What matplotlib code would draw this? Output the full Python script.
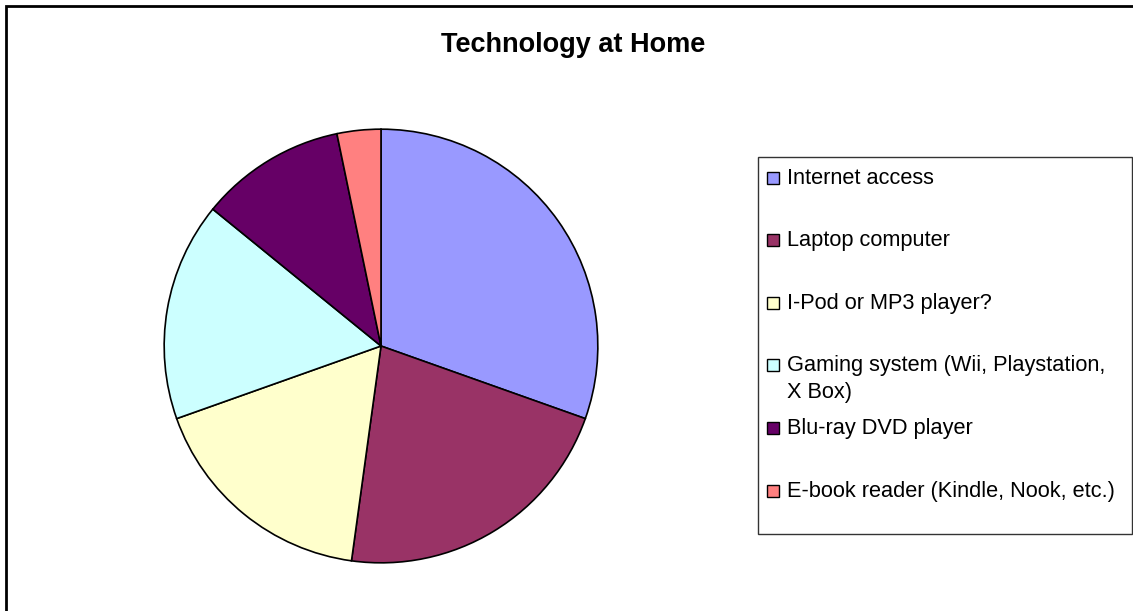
import matplotlib.pyplot as plt
from matplotlib.patches import Rectangle

plt.rcParams['font.family'] = ['Liberation Sans', 'DejaVu Sans']

# data
labels = ["Internet access", "Laptop computer", "I-Pod or MP3 player?",
          "Gaming system (Wii, Playstation,\nX Box)", "Blu-ray DVD player",
          "E-book reader (Kindle, Nook, etc.)"]
counts = [28, 20, 16, 15, 10, 3]
colors = ["#9999FF", "#993366", "#FFFFCC", "#CCFFFF", "#660066", "#FF8080"]

W, H = 1133, 611
fig = plt.figure(figsize=(W / 100, H / 100), dpi=100)


def fx(px):
    return px / W


def fy(py):
    return 1 - py / H


# outer chart frame (right and bottom edges are cut off in the original)
fig.add_artist(Rectangle((fx(6), -0.1), 1.2, fy(6) + 0.1, transform=fig.transFigure,
                         fill=False, lw=2, ec="black"))

# pie
ax = fig.add_axes([fx(162), fy(565), 438 / W, 438 / H])
ax.pie(counts, colors=colors, startangle=90, counterclock=False,
       wedgeprops=dict(edgecolor="black", linewidth=1.2))
ax.set_xlim(-1.01, 1.01)
ax.set_ylim(-1.01, 1.01)
ax.set_aspect("equal")
ax.axis("off")

fig.text(fx(573), fy(52), "Technology at Home", ha="center", va="baseline",
         fontsize=19.5, fontweight="bold")

# legend drawn by hand, like the excel one
fig.add_artist(Rectangle((fx(758), fy(534)), (1132 - 758) / W, (534 - 157) / H,
                         transform=fig.transFigure, fill=False, lw=1, ec="#333333"))
for i, (lab, col) in enumerate(zip(labels, colors)):
    base = 183.5 + 62.6 * i
    fig.add_artist(Rectangle((fx(767), fy(base)), 12 / W, 12 / H,
                             transform=fig.transFigure, fc=col, ec="black", lw=1))
    # wrapped labels: each line on its own baseline, marker stays on the first
    for j, line in enumerate(lab.split("\n")):
        fig.text(fx(787), fy(base + 27 * j), line, ha="left", va="baseline",
                 fontsize=15.7)

fig.savefig("out.png", dpi=100)
